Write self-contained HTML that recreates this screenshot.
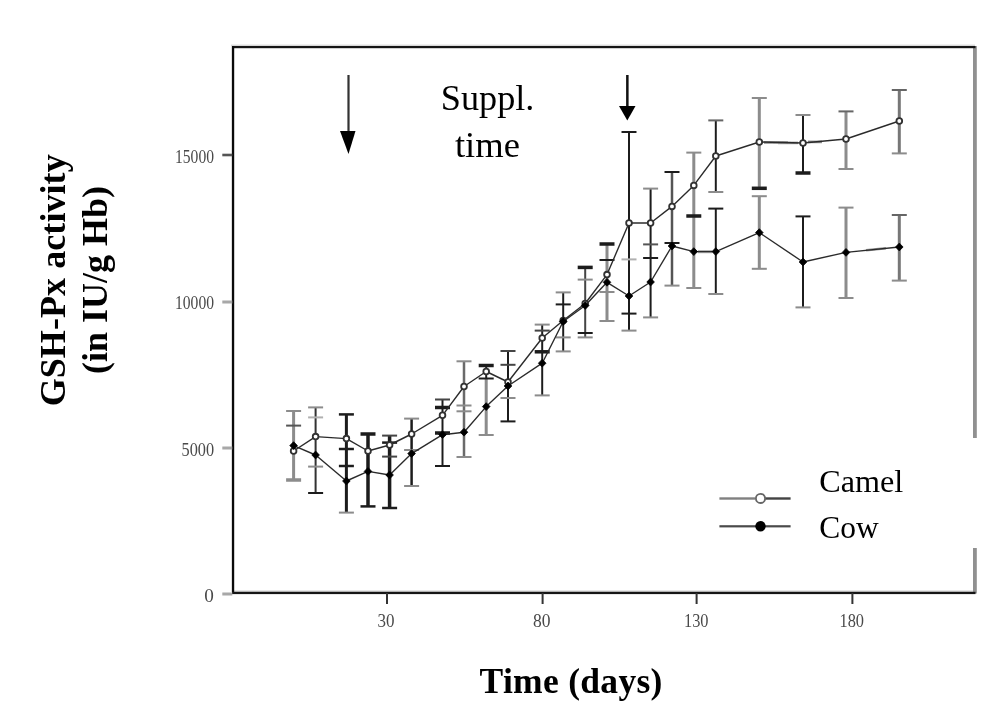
<!DOCTYPE html>
<html lang="en"><head><meta charset="utf-8"><title>GSH-Px activity</title>
<style>html,body{margin:0;padding:0;background:#fff}body{width:1000px;height:712px;overflow:hidden}svg{display:block}text{font-family:"Liberation Serif","DejaVu Serif",serif}</style>
</head><body>
<svg width="1000" height="712" viewBox="0 0 1000 712">
<rect width="1000" height="712" fill="#fff"/>
<defs><filter id="soft1" x="-5%" y="-5%" width="110%" height="110%"><feGaussianBlur stdDeviation="0.45"/></filter><filter id="soft2" x="-5%" y="-5%" width="110%" height="110%"><feGaussianBlur stdDeviation="0.3"/></filter></defs>
<g id="frame">
<rect x="231" y="44.6" width="744" height="1.6" fill="#d8d8d8"/>
<rect x="231" y="46" width="1.2" height="546" fill="#dcdcdc"/>
<rect x="234" y="590.4" width="740" height="1.6" fill="#d8d8d8"/>
<rect x="973" y="46" width="3.8" height="392" fill="#909090"/>
<rect x="973" y="548" width="3.8" height="45.5" fill="#909090"/>
<rect x="232" y="46" width="743.5" height="2.2" fill="#151515"/>
<rect x="232" y="46" width="2.2" height="548" fill="#0a0a0a"/>
<rect x="232" y="591.8" width="743.5" height="2.3" fill="#151515"/>
</g>
<g id="ticks">
<rect x="222.3" y="153.7" width="10" height="2.6" fill="#555"/>
<rect x="222.3" y="300.5" width="10" height="3" fill="#a8a8a8"/>
<rect x="222.3" y="446.5" width="10" height="3" fill="#a8a8a8"/>
<rect x="222.3" y="592.5" width="10" height="3" fill="#a8a8a8"/>
<rect x="386.0" y="593" width="2" height="11" fill="#333"/>
<rect x="541.6" y="593" width="2" height="11" fill="#333"/>
<rect x="695.6" y="593" width="2" height="11" fill="#333"/>
<rect x="851.4" y="593" width="2" height="11" fill="#333"/>
</g>
<g id="ticklabels" filter="url(#soft1)" fill="#4a4a4a" font-size="18.6">
<text x="175" y="163.4" textLength="39" lengthAdjust="spacingAndGlyphs">15000</text>
<text x="175" y="309.4" textLength="39" lengthAdjust="spacingAndGlyphs">10000</text>
<text x="181.5" y="455.9" textLength="32.5" lengthAdjust="spacingAndGlyphs">5000</text>
<text x="204.2" y="601.9" textLength="9.6" lengthAdjust="spacingAndGlyphs">0</text>
<text x="377.5" y="626.8" textLength="17" lengthAdjust="spacingAndGlyphs">30</text>
<text x="533" y="626.8" textLength="17.5" lengthAdjust="spacingAndGlyphs">80</text>
<text x="684" y="626.8" textLength="24.5" lengthAdjust="spacingAndGlyphs">130</text>
<text x="839.5" y="626.8" textLength="24.5" lengthAdjust="spacingAndGlyphs">180</text>
</g>
<g id="errorbars" filter="url(#soft1)">
<rect x="292.10" y="411" width="3" height="69.0" fill="#8c8c8c"/>
<rect x="286.10" y="410.00" width="15" height="2" fill="#8c8c8c"/>
<rect x="286.10" y="424.60" width="15" height="2" fill="#555"/>
<rect x="286.10" y="478.25" width="15" height="3.5" fill="#8c8c8c"/>
<rect x="314.60" y="407.4" width="2" height="85.6" fill="#333"/>
<rect x="308.10" y="406.40" width="15" height="2" fill="#8c8c8c"/>
<rect x="308.10" y="416.40" width="15" height="2" fill="#b0b0b0"/>
<rect x="308.10" y="465.60" width="15" height="2" fill="#8c8c8c"/>
<rect x="308.10" y="492.00" width="15" height="2" fill="#1e1e1e"/>
<rect x="344.90" y="414.4" width="3" height="98.2" fill="#1e1e1e"/>
<rect x="338.90" y="413.15" width="15" height="2.5" fill="#1e1e1e"/>
<rect x="338.90" y="447.75" width="15" height="2.5" fill="#1e1e1e"/>
<rect x="338.90" y="464.75" width="15" height="2.5" fill="#1e1e1e"/>
<rect x="338.90" y="511.60" width="15" height="2" fill="#8c8c8c"/>
<rect x="366.25" y="434" width="3.5" height="72.4" fill="#1e1e1e"/>
<rect x="360.50" y="432.25" width="15" height="3.5" fill="#1e1e1e"/>
<rect x="360.50" y="505.15" width="15" height="2.5" fill="#1e1e1e"/>
<rect x="387.85" y="435.6" width="3.5" height="72.4" fill="#1e1e1e"/>
<rect x="382.10" y="434.60" width="15" height="2" fill="#444"/>
<rect x="382.10" y="441.35" width="15" height="2.5" fill="#1e1e1e"/>
<rect x="382.10" y="455.60" width="15" height="2" fill="#444"/>
<rect x="382.10" y="506.75" width="15" height="2.5" fill="#1e1e1e"/>
<rect x="410.35" y="418.6" width="2.5" height="67.4" fill="#1e1e1e"/>
<rect x="404.10" y="417.60" width="15" height="2" fill="#8c8c8c"/>
<rect x="404.10" y="449.00" width="15" height="2" fill="#8c8c8c"/>
<rect x="404.10" y="485.00" width="15" height="2" fill="#8c8c8c"/>
<rect x="441.50" y="399.5" width="2" height="66.5" fill="#1e1e1e"/>
<rect x="435.00" y="398.50" width="15" height="2" fill="#444"/>
<rect x="435.00" y="405.75" width="15" height="3.5" fill="#1e1e1e"/>
<rect x="435.00" y="431.25" width="15" height="3.5" fill="#1e1e1e"/>
<rect x="435.00" y="465.00" width="15" height="2" fill="#1e1e1e"/>
<rect x="462.75" y="361.3" width="2.5" height="95.7" fill="#6a6a6a"/>
<rect x="456.50" y="360.30" width="15" height="2" fill="#8c8c8c"/>
<rect x="456.50" y="404.50" width="15" height="2" fill="#8c8c8c"/>
<rect x="456.50" y="410.30" width="15" height="2" fill="#8c8c8c"/>
<rect x="456.50" y="456.00" width="15" height="2" fill="#8c8c8c"/>
<rect x="485.20" y="365.5" width="2" height="13.0" fill="#1e1e1e"/>
<rect x="484.70" y="378.5" width="3" height="56.5" fill="#8c8c8c"/>
<rect x="478.70" y="363.75" width="15" height="3.5" fill="#1e1e1e"/>
<rect x="478.70" y="377.50" width="15" height="2" fill="#1e1e1e"/>
<rect x="478.70" y="434.00" width="15" height="2" fill="#8c8c8c"/>
<rect x="507.00" y="351" width="2" height="70.4" fill="#1e1e1e"/>
<rect x="500.50" y="350.00" width="15" height="2" fill="#444"/>
<rect x="500.50" y="363.80" width="15" height="2" fill="#444"/>
<rect x="500.50" y="397.00" width="15" height="2" fill="#8c8c8c"/>
<rect x="500.50" y="420.40" width="15" height="2" fill="#1e1e1e"/>
<rect x="541.20" y="324.6" width="2" height="70.8" fill="#1e1e1e"/>
<rect x="534.70" y="323.60" width="15" height="2" fill="#8c8c8c"/>
<rect x="534.70" y="329.60" width="15" height="2" fill="#444"/>
<rect x="534.70" y="350.05" width="15" height="3.5" fill="#1e1e1e"/>
<rect x="534.70" y="394.40" width="15" height="2" fill="#8c8c8c"/>
<rect x="562.20" y="292.4" width="2" height="59.0" fill="#1e1e1e"/>
<rect x="555.70" y="291.40" width="15" height="2" fill="#8c8c8c"/>
<rect x="555.70" y="303.40" width="15" height="2" fill="#1e1e1e"/>
<rect x="555.70" y="336.40" width="15" height="2" fill="#8c8c8c"/>
<rect x="555.70" y="350.40" width="15" height="2" fill="#8c8c8c"/>
<rect x="584.20" y="267.4" width="2" height="70.0" fill="#444"/>
<rect x="577.70" y="265.65" width="15" height="3.5" fill="#1e1e1e"/>
<rect x="577.70" y="278.60" width="15" height="2" fill="#8c8c8c"/>
<rect x="577.70" y="332.00" width="15" height="2" fill="#1e1e1e"/>
<rect x="577.70" y="336.40" width="15" height="2" fill="#8c8c8c"/>
<rect x="605.50" y="244" width="3" height="77.0" fill="#8c8c8c"/>
<rect x="599.50" y="242.25" width="15" height="3.5" fill="#1e1e1e"/>
<rect x="599.50" y="259.00" width="15" height="2" fill="#1e1e1e"/>
<rect x="599.50" y="291.00" width="15" height="2" fill="#8c8c8c"/>
<rect x="599.50" y="320.00" width="15" height="2" fill="#8c8c8c"/>
<rect x="628.00" y="132" width="2" height="198.6" fill="#1e1e1e"/>
<rect x="621.50" y="131.00" width="15" height="2" fill="#1e1e1e"/>
<rect x="621.50" y="258.40" width="15" height="2" fill="#b0b0b0"/>
<rect x="621.50" y="312.60" width="15" height="2" fill="#1e1e1e"/>
<rect x="621.50" y="329.60" width="15" height="2" fill="#8c8c8c"/>
<rect x="649.60" y="188.6" width="2" height="128.8" fill="#1e1e1e"/>
<rect x="643.10" y="187.60" width="15" height="2" fill="#8c8c8c"/>
<rect x="643.10" y="243.40" width="15" height="2" fill="#555"/>
<rect x="643.10" y="257.00" width="15" height="2" fill="#1e1e1e"/>
<rect x="643.10" y="316.40" width="15" height="2" fill="#8c8c8c"/>
<rect x="670.75" y="172" width="2.5" height="113.6" fill="#555"/>
<rect x="664.50" y="171.00" width="15" height="2" fill="#1e1e1e"/>
<rect x="664.50" y="242.00" width="15" height="2" fill="#1e1e1e"/>
<rect x="664.50" y="284.60" width="15" height="2" fill="#8c8c8c"/>
<rect x="692.30" y="152.6" width="3" height="135.4" fill="#8c8c8c"/>
<rect x="686.30" y="151.60" width="15" height="2" fill="#8c8c8c"/>
<rect x="686.30" y="214.25" width="15" height="3.5" fill="#1e1e1e"/>
<rect x="686.30" y="287.00" width="15" height="2" fill="#8c8c8c"/>
<rect x="714.80" y="120.4" width="2" height="71.6" fill="#1e1e1e"/>
<rect x="714.80" y="208.6" width="2" height="85.4" fill="#1e1e1e"/>
<rect x="708.30" y="119.40" width="15" height="2" fill="#666"/>
<rect x="708.30" y="191.00" width="15" height="2" fill="#8c8c8c"/>
<rect x="708.30" y="207.60" width="15" height="2" fill="#1e1e1e"/>
<rect x="708.30" y="293.00" width="15" height="2" fill="#8c8c8c"/>
<rect x="757.80" y="98" width="3" height="90.3" fill="#8c8c8c"/>
<rect x="757.80" y="196.2" width="3" height="72.6" fill="#8c8c8c"/>
<rect x="751.80" y="97.00" width="15" height="2" fill="#8c8c8c"/>
<rect x="751.80" y="186.55" width="15" height="3.5" fill="#1e1e1e"/>
<rect x="751.80" y="195.20" width="15" height="2" fill="#8c8c8c"/>
<rect x="751.80" y="267.80" width="15" height="2" fill="#8c8c8c"/>
<rect x="802.00" y="115" width="2" height="58.0" fill="#1e1e1e"/>
<rect x="802.00" y="216.4" width="2" height="91.0" fill="#1e1e1e"/>
<rect x="795.50" y="114.00" width="15" height="2" fill="#8c8c8c"/>
<rect x="795.50" y="171.25" width="15" height="3.5" fill="#1e1e1e"/>
<rect x="795.50" y="215.40" width="15" height="2" fill="#1e1e1e"/>
<rect x="795.50" y="306.40" width="15" height="2" fill="#8c8c8c"/>
<rect x="844.50" y="111.4" width="3" height="57.6" fill="#8c8c8c"/>
<rect x="844.50" y="207.6" width="3" height="90.4" fill="#8c8c8c"/>
<rect x="838.50" y="110.40" width="15" height="2" fill="#666"/>
<rect x="838.50" y="168.00" width="15" height="2" fill="#8c8c8c"/>
<rect x="838.50" y="206.60" width="15" height="2" fill="#8c8c8c"/>
<rect x="838.50" y="297.00" width="15" height="2" fill="#8c8c8c"/>
<rect x="897.80" y="90" width="3" height="63.4" fill="#777"/>
<rect x="897.80" y="215" width="3" height="65.6" fill="#777"/>
<rect x="891.80" y="89.00" width="15" height="2" fill="#666"/>
<rect x="891.80" y="152.40" width="15" height="2" fill="#8c8c8c"/>
<rect x="891.80" y="214.00" width="15" height="2" fill="#666"/>
<rect x="891.80" y="279.60" width="15" height="2" fill="#8c8c8c"/>
</g>
<g id="soft" fill="#a6a6a6"><rect x="698" y="250.2" width="14" height="3"/><rect x="764" y="141" width="24" height="3"/><rect x="778" y="141.6" width="20" height="2.6" fill="#999"/><rect x="808" y="140.6" width="14" height="2.6" fill="#888"/><rect x="866" y="248" width="20" height="2.6" transform="rotate(-5.8 876 249.3)" fill="#999"/></g>
<g id="series" filter="url(#soft2)" fill="none" stroke="#2c2c2c" stroke-width="1.4" stroke-linejoin="round">
<polyline points="293.6,451 315.6,436.6 346.4,438.6 368,451 389.6,445 411.6,434 442.5,415.3 464,386.5 486.2,371.5 508,382 542.2,338 563.2,320.5 585.2,303.5 607,274.6 629,223 650.6,223 672,206.4 693.8,185.4 715.8,156 759.3,142 803,143 846,139 899.3,121"/>
<polyline points="293.6,445.6 315.6,455 346.4,481 368,471.4 389.6,475 411.6,453.6 442.5,434.7 464,432.2 486.2,406.6 508,386 542.2,363.2 563.2,321.5 585.2,305.5 607,282.3 629,296 650.6,282 672,246 693.8,251.6 715.8,251.6 759.3,232.6 803,262 846,252.4 899.3,247"/>
</g>
<g id="markers" filter="url(#soft2)">
<circle cx="293.6" cy="451" r="2.85" fill="#fff" stroke="#303030" stroke-width="1.8"/>
<circle cx="315.6" cy="436.6" r="2.85" fill="#fff" stroke="#303030" stroke-width="1.8"/>
<circle cx="346.4" cy="438.6" r="2.85" fill="#fff" stroke="#303030" stroke-width="1.8"/>
<circle cx="368" cy="451" r="2.85" fill="#fff" stroke="#303030" stroke-width="1.8"/>
<circle cx="389.6" cy="445" r="2.85" fill="#fff" stroke="#303030" stroke-width="1.8"/>
<circle cx="411.6" cy="434" r="2.85" fill="#fff" stroke="#303030" stroke-width="1.8"/>
<circle cx="442.5" cy="415.3" r="2.85" fill="#fff" stroke="#303030" stroke-width="1.8"/>
<circle cx="464" cy="386.5" r="2.85" fill="#fff" stroke="#303030" stroke-width="1.8"/>
<circle cx="486.2" cy="371.5" r="2.85" fill="#fff" stroke="#303030" stroke-width="1.8"/>
<circle cx="508" cy="382" r="2.85" fill="#fff" stroke="#303030" stroke-width="1.8"/>
<circle cx="542.2" cy="338" r="2.85" fill="#fff" stroke="#303030" stroke-width="1.8"/>
<circle cx="563.2" cy="320.5" r="2.85" fill="#fff" stroke="#303030" stroke-width="1.8"/>
<circle cx="585.2" cy="303.5" r="2.85" fill="#fff" stroke="#303030" stroke-width="1.8"/>
<circle cx="607" cy="274.6" r="2.85" fill="#fff" stroke="#303030" stroke-width="1.8"/>
<circle cx="629" cy="223" r="2.85" fill="#fff" stroke="#303030" stroke-width="1.8"/>
<circle cx="650.6" cy="223" r="2.85" fill="#fff" stroke="#303030" stroke-width="1.8"/>
<circle cx="672" cy="206.4" r="2.85" fill="#fff" stroke="#303030" stroke-width="1.8"/>
<circle cx="693.8" cy="185.4" r="2.85" fill="#fff" stroke="#303030" stroke-width="1.8"/>
<circle cx="715.8" cy="156" r="2.85" fill="#fff" stroke="#303030" stroke-width="1.8"/>
<circle cx="759.3" cy="142" r="2.85" fill="#fff" stroke="#303030" stroke-width="1.8"/>
<circle cx="803" cy="143" r="2.85" fill="#fff" stroke="#303030" stroke-width="1.8"/>
<circle cx="846" cy="139" r="2.85" fill="#fff" stroke="#303030" stroke-width="1.8"/>
<circle cx="899.3" cy="121" r="2.85" fill="#fff" stroke="#303030" stroke-width="1.8"/>
<polygon points="293.6,441.7 297.4,445.6 293.6,449.5 289.8,445.6" fill="#000" stroke="#000" stroke-width="0.8" stroke-linejoin="round"/>
<polygon points="315.6,451.1 319.4,455 315.6,458.9 311.8,455" fill="#000" stroke="#000" stroke-width="0.8" stroke-linejoin="round"/>
<polygon points="346.4,477.1 350.2,481 346.4,484.9 342.6,481" fill="#000" stroke="#000" stroke-width="0.8" stroke-linejoin="round"/>
<polygon points="368,467.5 371.8,471.4 368,475.3 364.2,471.4" fill="#000" stroke="#000" stroke-width="0.8" stroke-linejoin="round"/>
<polygon points="389.6,471.1 393.4,475 389.6,478.9 385.8,475" fill="#000" stroke="#000" stroke-width="0.8" stroke-linejoin="round"/>
<polygon points="411.6,449.7 415.4,453.6 411.6,457.5 407.8,453.6" fill="#000" stroke="#000" stroke-width="0.8" stroke-linejoin="round"/>
<polygon points="442.5,430.8 446.3,434.7 442.5,438.6 438.7,434.7" fill="#000" stroke="#000" stroke-width="0.8" stroke-linejoin="round"/>
<polygon points="464,428.3 467.8,432.2 464,436.1 460.2,432.2" fill="#000" stroke="#000" stroke-width="0.8" stroke-linejoin="round"/>
<polygon points="486.2,402.7 490.0,406.6 486.2,410.5 482.4,406.6" fill="#000" stroke="#000" stroke-width="0.8" stroke-linejoin="round"/>
<polygon points="508,382.1 511.8,386 508,389.9 504.2,386" fill="#000" stroke="#000" stroke-width="0.8" stroke-linejoin="round"/>
<polygon points="542.2,359.3 546.0,363.2 542.2,367.1 538.4,363.2" fill="#000" stroke="#000" stroke-width="0.8" stroke-linejoin="round"/>
<polygon points="563.2,317.6 567.0,321.5 563.2,325.4 559.4,321.5" fill="#000" stroke="#000" stroke-width="0.8" stroke-linejoin="round"/>
<polygon points="585.2,301.6 589.0,305.5 585.2,309.4 581.4,305.5" fill="#000" stroke="#000" stroke-width="0.8" stroke-linejoin="round"/>
<polygon points="607,278.4 610.8,282.3 607,286.2 603.2,282.3" fill="#000" stroke="#000" stroke-width="0.8" stroke-linejoin="round"/>
<polygon points="629,292.1 632.8,296 629,299.9 625.2,296" fill="#000" stroke="#000" stroke-width="0.8" stroke-linejoin="round"/>
<polygon points="650.6,278.1 654.4,282 650.6,285.9 646.8,282" fill="#000" stroke="#000" stroke-width="0.8" stroke-linejoin="round"/>
<polygon points="672,242.1 675.8,246 672,249.9 668.2,246" fill="#000" stroke="#000" stroke-width="0.8" stroke-linejoin="round"/>
<polygon points="693.8,247.7 697.6,251.6 693.8,255.5 690.0,251.6" fill="#000" stroke="#000" stroke-width="0.8" stroke-linejoin="round"/>
<polygon points="715.8,247.7 719.6,251.6 715.8,255.5 712.0,251.6" fill="#000" stroke="#000" stroke-width="0.8" stroke-linejoin="round"/>
<polygon points="759.3,228.7 763.1,232.6 759.3,236.5 755.5,232.6" fill="#000" stroke="#000" stroke-width="0.8" stroke-linejoin="round"/>
<polygon points="803,258.1 806.8,262 803,265.9 799.2,262" fill="#000" stroke="#000" stroke-width="0.8" stroke-linejoin="round"/>
<polygon points="846,248.5 849.8,252.4 846,256.3 842.2,252.4" fill="#000" stroke="#000" stroke-width="0.8" stroke-linejoin="round"/>
<polygon points="899.3,243.1 903.1,247 899.3,250.9 895.5,247" fill="#000" stroke="#000" stroke-width="0.8" stroke-linejoin="round"/>
</g>
<g id="arrows">
<rect x="347.4" y="75" width="2.2" height="58" fill="#333"/>
<polygon points="340,131 355.5,131 348.5,154" fill="#000"/>
<rect x="626.1" y="75" width="2.5" height="33" fill="#111"/>
<polygon points="619,106 635.5,106 627.3,120.5" fill="#000"/>
</g>
<g id="labels" fill="#000">
<text x="440.8" y="109.5" font-size="36" textLength="93.6" lengthAdjust="spacingAndGlyphs">Suppl.</text>
<text x="454.9" y="156.6" font-size="36" textLength="65" lengthAdjust="spacingAndGlyphs">time</text>
<text x="819.2" y="492.4" font-size="32" textLength="84" lengthAdjust="spacingAndGlyphs">Camel</text>
<text x="819.2" y="538.2" font-size="32" textLength="59.4" lengthAdjust="spacingAndGlyphs">Cow</text>
<text x="479.6" y="693.3" font-size="35.5" font-weight="bold" textLength="182.8" lengthAdjust="spacing">Time (days)</text>
<text transform="translate(65,406.3) rotate(-90)" font-size="36" font-weight="bold" textLength="252" lengthAdjust="spacing">GSH-Px activity</text>
<text transform="translate(107,374) rotate(-90)" font-size="36" font-weight="bold" textLength="188" lengthAdjust="spacing">(in IU/g Hb)</text>
</g>
<g id="legend">
<rect x="719.4" y="497.3" width="36" height="2.4" fill="#808080"/>
<rect x="765" y="497.3" width="25.6" height="2.4" fill="#444"/>
<circle cx="760.5" cy="498.4" r="4.6" fill="#fff" stroke="#666" stroke-width="1.8"/>
<rect x="719.4" y="525.2" width="71.2" height="2.2" fill="#4a4a4a"/>
<circle cx="760.5" cy="526.3" r="5.2" fill="#000"/>
</g>
</svg>
</body></html>
